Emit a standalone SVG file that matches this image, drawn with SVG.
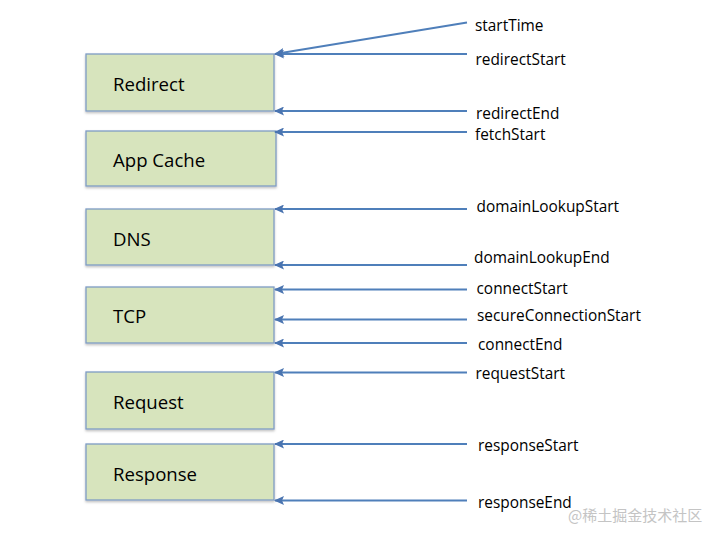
<svg xmlns="http://www.w3.org/2000/svg" width="720" height="540" viewBox="0 0 720 540">
<defs>
<marker id="ah" markerWidth="10" markerHeight="9" refX="9" refY="4.5" orient="auto" markerUnits="userSpaceOnUse">
<path d="M0,0 L10,4.5 L0,9 L2,4.5 z" fill="#4a74b0"/>
</marker>
<filter id="sh" x="-5%" y="-5%" width="110%" height="120%">
<feDropShadow dx="0" dy="1.5" stdDeviation="1" flood-color="#000" flood-opacity="0.25"/>
</filter>
</defs>
<style>
.box{fill:#d7e4bd;stroke:#7f9cc4;stroke-width:1.3;filter:url(#sh)}
.bt{font-family:"Open Sans","Liberation Sans",sans-serif;font-size:18.6px;fill:#000}
.lt{font-family:"Open Sans","Liberation Sans",sans-serif;font-size:15.4px;fill:#000}
.c{stroke:#4f7fba;stroke-width:2;fill:none;marker-end:url(#ah)}
.wm{font-family:"Noto Sans CJK SC","Noto Sans",sans-serif;font-size:15px;fill:#c4c4c4}
</style>
<rect width="720" height="540" fill="#fff"/>
<g id="redirect"><rect class="box" x="86" y="54" width="188" height="57"/><text class="bt" x="113" y="91">Redirect</text></g>
<g id="appcache"><rect class="box" x="86" y="131" width="190" height="55"/><text class="bt" x="113" y="167">App Cache</text></g>
<g id="dns"><rect class="box" x="86" y="209" width="188" height="56"/><text class="bt" x="113" y="246">DNS</text></g>
<g id="tcp"><rect class="box" x="86" y="287" width="188" height="56"/><text class="bt" x="113" y="323">TCP</text></g>
<g id="request"><rect class="box" x="86" y="372" width="188" height="57"/><text class="bt" x="113" y="409">Request</text></g>
<g id="response"><rect class="box" x="86" y="444" width="188" height="56"/><text class="bt" x="113" y="481">Response</text></g>
<g id="connectors">
<line class="c" x1="467" y1="22.5" x2="275" y2="54"/>
<line class="c" x1="467" y1="54" x2="275" y2="54"/>
<line class="c" x1="467" y1="111" x2="275" y2="111"/>
<line class="c" x1="467" y1="132" x2="275" y2="132"/>
<line class="c" x1="467" y1="209" x2="275" y2="209"/>
<line class="c" x1="467" y1="265" x2="275" y2="265"/>
<line class="c" x1="467" y1="289.5" x2="275" y2="289.5"/>
<line class="c" x1="467" y1="319.5" x2="275" y2="319.5"/>
<line class="c" x1="467" y1="343" x2="275" y2="343"/>
<line class="c" x1="467" y1="372.5" x2="275" y2="372.5"/>
<line class="c" x1="467" y1="444" x2="275" y2="444"/>
<line class="c" x1="467" y1="500.5" x2="275" y2="500.5"/>
</g>
<g id="labels">
<text class="lt" x="475" y="31">startTime</text>
<text class="lt" x="475.5" y="65">redirectStart</text>
<text class="lt" x="476" y="119">redirectEnd</text>
<text class="lt" x="475" y="140">fetchStart</text>
<text class="lt" x="476.5" y="212">domainLookupStart</text>
<text class="lt" x="474" y="263">domainLookupEnd</text>
<text class="lt" x="476.5" y="294">connectStart</text>
<text class="lt" x="477" y="321">secureConnectionStart</text>
<text class="lt" x="478" y="350">connectEnd</text>
<text class="lt" x="475.5" y="378.5">requestStart</text>
<text class="lt" x="478" y="451">responseStart</text>
<text class="lt" x="478" y="507.5">responseEnd</text>
</g>
<text class="wm" x="568" y="521">@稀土掘金技术社区</text>
</svg>
